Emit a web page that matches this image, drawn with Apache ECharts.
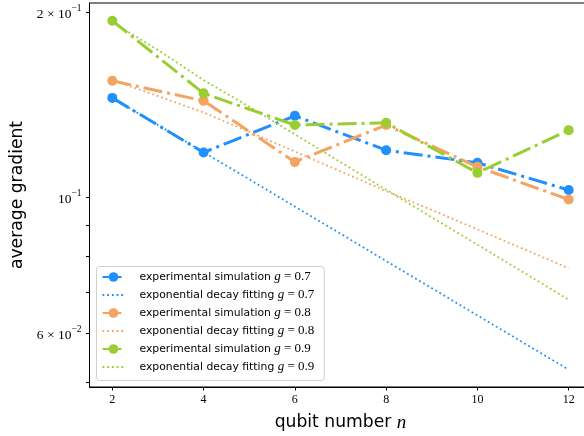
<!DOCTYPE html>
<html><head><meta charset="utf-8">
<script src="https://cdn.jsdelivr.net/npm/echarts@6/dist/echarts.min.js"></script>
<style>html,body{margin:0;padding:0;background:#fff}#c{width:584px;height:436px}</style>
</head><body><div id="c"></div>
<script>
const nExp = [2, 4, 6, 8, 10, 12];
const nFit = [2, 3, 4, 5, 6, 7, 8, 9, 10, 11, 12];
const exp07 = [0.1450, 0.1182, 0.1356, 0.1192, 0.1137, 0.1027];
const fit07 = [0.1450, 0.1310, 0.1183, 0.1069, 0.0965, 0.0872, 0.0787, 0.0711, 0.0642, 0.0580, 0.0524];
const exp08 = [0.1546, 0.1434, 0.1141, 0.1310, 0.1120, 0.0991];
const fit08 = [0.1550, 0.1460, 0.1373, 0.1277, 0.1186, 0.1101, 0.1023, 0.0953, 0.0886, 0.0824, 0.0766];
const exp09 = [0.1936, 0.1475, 0.1310, 0.1321, 0.1095, 0.1285];
const fit09 = [0.1926, 0.1735, 0.1550, 0.1403, 0.1265, 0.1140, 0.1028, 0.0927, 0.0837, 0.0755, 0.0681];
const gValues = ['0.7', '0.8', '0.9'];
const expPrefix = 'experimental simulation';
const fitPrefix = 'exponential decay fitting';
const xTicks = [2, 4, 6, 8, 10, 12];
const yLabelValues = [0.06, 0.1, 0.2];
const yLabelMantissa = ['6', '', '2'];
const yLabelExponent = ['−2', '−1', '−1'];
const yTickValues = [0.05, 0.06, 0.07, 0.08, 0.09, 0.1, 0.2];

const colors = ['#1E90FF', '#F4A460', '#9ACD32'];
const expSets = [exp07, exp08, exp09];
const fitSets = [fit07, fit08, fit09];
const SERIF = '"Liberation Serif", "DejaVu Serif", serif';
const SANS = '"DejaVu Sans", "Noto Sans", sans-serif';

const series = [];
const legendData = [];
for (let k = 0; k < 3; k++) {
  const en = expPrefix + ' g = ' + gValues[k];
  const fn = fitPrefix + ' g = ' + gValues[k];
  series.push({
    name: en,
    type: 'line',
    data: nExp.map((n, i) => [n, expSets[k][i]]),
    symbol: 'circle', symbolSize: 10, showSymbol: true,
    itemStyle: { color: colors[k] },
    lineStyle: { color: colors[k], width: 3, type: [19, 5, 3, 5] },
    z: 2 + 2 * k
  });
  series.push({
    name: fn,
    type: 'line',
    data: nFit.map((n, i) => [n, fitSets[k][i]]),
    symbol: 'none', showSymbol: false,
    itemStyle: { color: colors[k] },
    lineStyle: { color: colors[k], width: 1.8, type: [1.8, 2.9] },
    z: 3 + 2 * k
  });
  legendData.push({ name: en });
  legendData.push({ name: fn, itemStyle: { opacity: 0 } });
}

const chart = echarts.init(document.getElementById('c'), null, { renderer: 'canvas' });
chart.setOption({
  animation: false,
  backgroundColor: '#fff',
  grid: { left: 89.5, top: 3, width: 502, height: 384, outerBoundsMode: 'none', containLabel: false,
          show: true, borderColor: '#000', borderWidth: 1, backgroundColor: 'transparent' },
  xAxis: {
    type: 'value', min: 1.5, max: 12.5,
    name: '{a|qubit number }{i|n}',
    nameLocation: 'middle', nameGap: 26,
    nameTextStyle: { rich: {
      a: { fontFamily: SANS, fontSize: 17.2, color: '#000' },
      i: { fontFamily: SERIF, fontStyle: 'italic', fontSize: 19, color: '#000' }
    } },
    axisLine: { show: true, onZero: false, lineStyle: { color: '#000', width: 1 } },
    axisTick: { show: true, length: 3.5, customValues: xTicks, lineStyle: { color: '#000' } },
    axisLabel: { customValues: xTicks, margin: 7, fontFamily: SERIF, fontSize: 12, color: '#000' },
    splitLine: { show: false }
  },
  yAxis: {
    type: 'log', logBase: 10, min: 0.0491, max: 0.2069,
    name: 'average gradient',
    nameLocation: 'middle', nameGap: 61,
    nameTextStyle: { fontFamily: SANS, fontSize: 17.2, color: '#000' },
    axisLine: { show: true, lineStyle: { color: '#000', width: 1 } },
    axisTick: { show: true, length: 3.5, customValues: yTickValues, lineStyle: { color: '#000' } },
    axisLabel: {
      customValues: yLabelValues, margin: 8, color: '#000',
      formatter: function (v) {
        let idx = 0, best = Infinity;
        for (let i = 0; i < yLabelValues.length; i++) {
          const d = Math.abs(v - yLabelValues[i]);
          if (d < best) { best = d; idx = i; }
        }
        const m = yLabelMantissa[idx];
        return (m ? '{b|' + m + ' × 10}' : '{b|10}') + '{s|' + yLabelExponent[idx] + '}';
      },
      rich: {
        b: { fontFamily: SERIF, fontSize: 13.5, color: '#000', verticalAlign: 'bottom', lineHeight: 18 },
        s: { fontFamily: SERIF, fontSize: 9.5, color: '#000', verticalAlign: 'top', lineHeight: 10 }
      }
    },
    splitLine: { show: false },
    minorTick: { show: false }
  },
  legend: {
    orient: 'vertical', left: 96.5, top: 266.5,
    itemWidth: 22, itemHeight: 12, itemGap: 5,
    padding: [4, 10, 7, 5],
    backgroundColor: 'rgba(255,255,255,0.8)',
    borderColor: '#d0d0d0', borderWidth: 1, borderRadius: 3,
    data: legendData,
    formatter: function (name) {
      const parts = name.split(' g = ');
      return '{t|' + parts[0] + ' }{m|g}{r| = ' + parts[1] + '}';
    },
    textStyle: {
      padding: [0, 0, 0, 10],
      rich: {
        t: { fontFamily: SANS, fontSize: 10.8, color: '#000', lineHeight: 13 },
        m: { fontFamily: SERIF, fontStyle: 'italic', fontSize: 13, color: '#000', lineHeight: 13 },
        r: { fontFamily: SERIF, fontSize: 13, color: '#000', lineHeight: 13 }
      }
    }
  },
  series: series
});
</script>
</body></html>
